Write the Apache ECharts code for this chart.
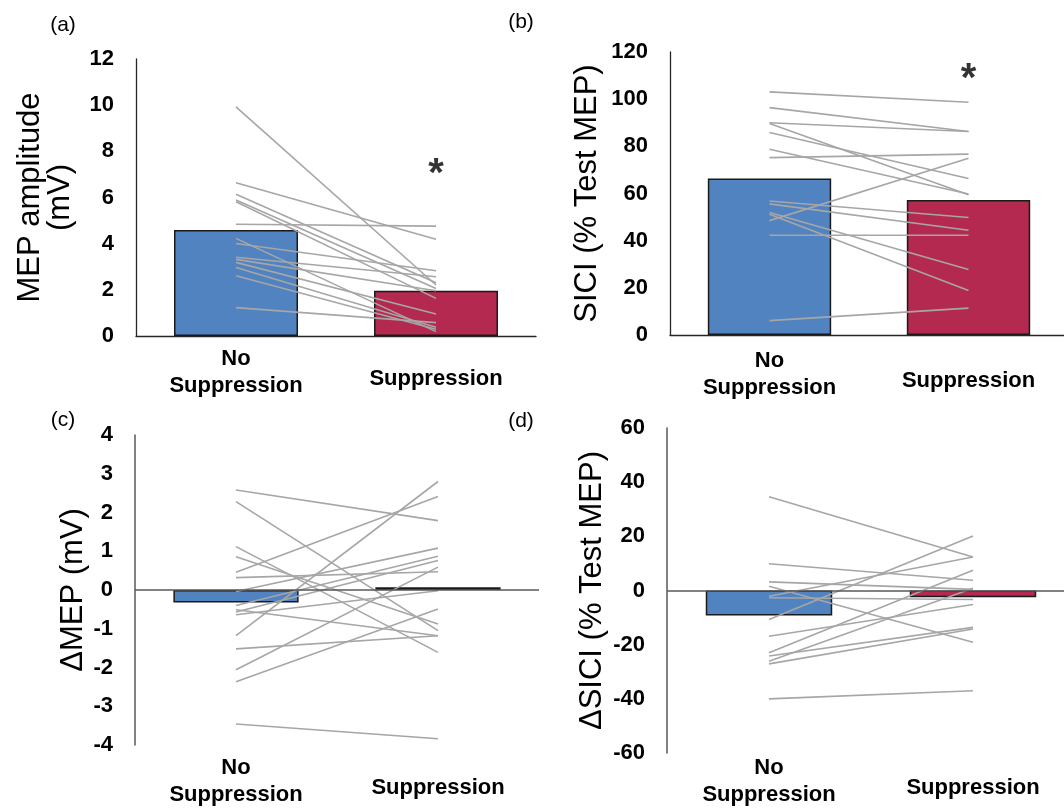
<!DOCTYPE html>
<html>
<head>
<meta charset="utf-8">
<script src="https://cdn.jsdelivr.net/npm/echarts@6/dist/echarts.min.js"></script>
<style>
html,body{margin:0;padding:0;background:#fff;}
#c{width:1064px;height:809px;}
</style>
</head>
<body>
<div id="c"></div>
<script>
// ---------- data ----------
var categories = ['No Suppression', 'Suppression'];

// (a) MEP amplitude (mV)
var aBars = [4.59, 1.96];
var aPre  = [9.93, 6.64, 6.14, 5.89, 5.82, 4.84, 4.23, 4.01, 3.41, 3.32, 3.19, 2.97, 2.61, 1.23];
var aPost = [2.21, 4.19, 2.31, 2.06, 1.63, 4.76, 0.19, 2.83, 2.57, 1.96, 0.95, 0.38, 0.29, 0.58];
var aStar = 6.99;

// (b) SICI (% Test MEP)
var bBars = [66.4, 57.2];
var bPre  = [103.1, 96.4, 90.0, 89.7, 85.9, 78.8, 75.2, 48.5, 56.8, 55.6, 51.9, 51.2, 42.3, 6.1];
var bPost = [98.7, 86.3, 86.3, 59.5, 66.4, 59.8, 76.7, 74.9, 49.8, 44.4, 27.8, 18.9, 42.3, 11.4];
var bStar = 108.2;

// (c) ΔMEP (mV)
var cBars = [-0.32, 0.07];
var cPre  = [2.58, 2.28, 1.12, 0.86, 0.46, 0.32, -0.04, -0.40, -0.51, -0.57, -0.64, -1.18, -1.52, -2.06, -2.37, -3.46];
var cPost = [1.79, -1.05, -1.61, -0.88, 2.41, 0.47, 1.08, 0.87, -1.18, 0.76, -0.02, 2.80, -1.18, 0.59, -0.49, -3.84];

// (d) ΔSICI (% Test MEP)
var dBars = [-9.2, -2.5];
var dPre  = [34.6, 9.85, 3.2, 1.6, -2.1, -2.7, -10.7, -16.9, -23.0, -24.2, -26.1, -27.1, -40.0];
var dPost = [12.4, 3.8, 0.4, -19.1, 12.4, -3.3, 20.1, -5.2, 7.5, -13.6, 0.8, -14.2, -37.0];

var yTitles = ['MEP amplitude\n(mV)', 'SICI (% Test MEP)', '\u0394MEP (mV)', '\u0394SICI (% Test MEP)'];
var panelLabels = ['(a)', '(b)', '(c)', '(d)'];
var yRanges = [[0, 12, 2], [0, 120, 20], [-4, 4, 1], [-60, 60, 20]];

// ---------- style ----------
var FONT = '"Liberation Sans", Arial, Helvetica, sans-serif';
var BLUE = '#5083C0', RED = '#B3294F', GRAY = '#A6A6A6';

var grids = [
  {left: 136, top: 59, width: 400, height: 277},
  {left: 670, top: 52, width: 398, height: 283},
  {left: 135, top: 435, width: 404, height: 310},
  {left: 667, top: 428, width: 408, height: 325}
];
var labelMargins = [9.5, 12.5, 9.5, 1.5];
var nameGaps = [61, 68, 47, 60];
var panelLabelPos = [[63, 25], [521, 22], [63, 420], [521, 421]];

var bars = [aBars, bBars, cBars, dBars];
var pres = [aPre, bPre, cPre, dPre];
var posts = [aPost, bPost, cPost, dPost];
var stars = [aStar, bStar, null, null];

var option = {
  backgroundColor: '#fff',
  animation: false,
  grid: [], xAxis: [], yAxis: [], series: [], graphic: []
};

for (var p = 0; p < 4; p++) {
  var g = grids[p];
  option.grid.push({left: g.left, top: g.top, width: g.width, height: g.height, containLabel: false, outerBoundsMode: 'none'});
  var isDelta = p >= 2;
  option.xAxis.push({
    type: 'category', gridIndex: p, data: categories,
    axisLine: {show: !isDelta, onZero: false, lineStyle: {color: '#262626', width: 1.3}},
    axisTick: {show: false},
    axisLabel: {
      interval: 0, margin: labelMargins[p], verticalAlign: 'top',
      color: '#000', fontFamily: FONT, fontSize: 22, fontWeight: 'bold',
      formatter: function (v, i) { return i === 0 ? '{n|No}\n{n|Suppression}' : '{s|Suppression}'; },
      rich: {
        n: {fontFamily: FONT, fontSize: 22, fontWeight: 'bold', color: '#000', lineHeight: 27, align: 'center'},
        s: {fontFamily: FONT, fontSize: 22, fontWeight: 'bold', color: '#000', lineHeight: 67, align: 'center'}
      }
    },
    splitLine: {show: false}
  });
  var r = yRanges[p];
  option.yAxis.push({
    type: 'value', gridIndex: p, min: r[0], max: r[1], interval: r[2],
    axisLine: {show: true, lineStyle: {color: isDelta ? '#595959' : '#262626', width: isDelta ? 1.5 : 1.3}},
    axisTick: {show: false},
    splitLine: {show: false},
    axisLabel: {margin: 22, color: '#000', fontFamily: FONT, fontSize: 22, fontWeight: 'bold'},
    name: yTitles[p], nameLocation: 'middle', nameRotate: 90, nameGap: nameGaps[p],
    nameTextStyle: {fontFamily: FONT, fontSize: 31, color: '#000', lineHeight: 30}
  });
  var barSeries = {
    type: 'bar', xAxisIndex: p, yAxisIndex: p, barWidth: '62%', z: 2,
    data: [
      {value: bars[p][0], itemStyle: {color: BLUE}},
      {value: bars[p][1], itemStyle: {color: RED}}
    ],
    itemStyle: {borderColor: '#1a1a1a', borderWidth: 1.5}
  };
  if (isDelta) {
    barSeries.markLine = {
      silent: true, symbol: 'none', label: {show: false},
      lineStyle: {color: '#595959', width: 1.5, type: 'solid'},
      data: [{yAxis: 0}]
    };
  }
  option.series.push(barSeries);
  for (var k = 0; k < pres[p].length; k++) {
    option.series.push({
      type: 'line', xAxisIndex: p, yAxisIndex: p, z: 3, silent: true,
      symbol: 'none', lineStyle: {color: GRAY, width: 1.6},
      data: [pres[p][k], posts[p][k]]
    });
  }
  if (stars[p] !== null) {
    option.series.push({
      type: 'scatter', xAxisIndex: p, yAxisIndex: p, z: 4, silent: true,
      symbolSize: 0,
      data: [[categories[1], stars[p]]],
      label: {show: true, position: 'inside', formatter: '*', fontFamily: FONT, fontSize: 40, fontWeight: 'bold', color: '#000'}
    });
  }
  option.graphic.push({
    type: 'text', x: panelLabelPos[p][0], y: panelLabelPos[p][1],
    style: {text: panelLabels[p], font: '21px ' + FONT, fill: '#000', textAlign: 'center', textVerticalAlign: 'middle'}
  });
}

var chart = echarts.init(document.getElementById('c'), null, {renderer: 'canvas'});
chart.setOption(option);
</script>
</body>
</html>
